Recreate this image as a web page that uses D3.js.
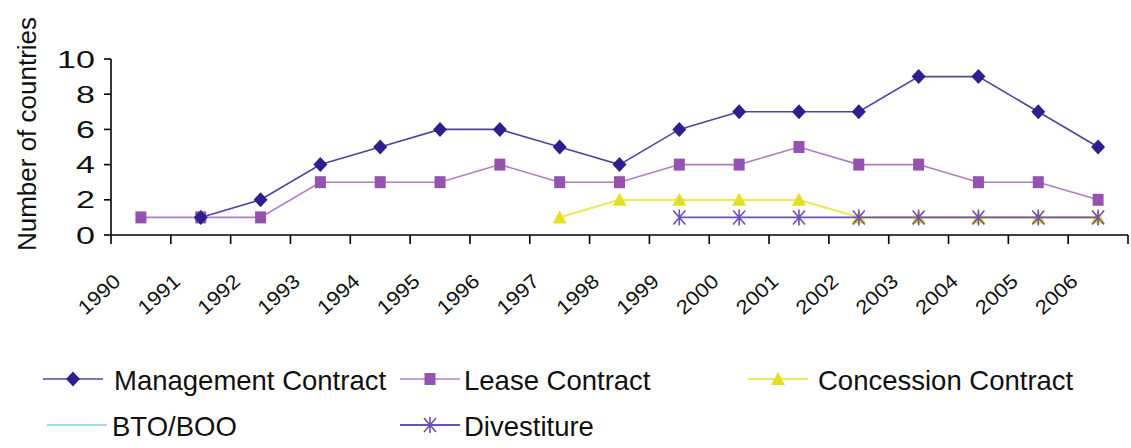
<!DOCTYPE html>
<html><head><meta charset="utf-8">
<script src="https://cdn.jsdelivr.net/npm/d3@7"></script>
<style>
html,body{margin:0;padding:0;background:#fff;}
svg{display:block;font-family:"Liberation Sans",Arial,sans-serif;}
</style></head>
<body>
<svg id="c" width="1131" height="448"></svg>
<script>
const years = ["1990","1991","1992","1993","1994","1995","1996","1997","1998","1999","2000","2001","2002","2003","2004","2005","2006"];
const yTicks = [0,2,4,6,8,10];
// null = no value
const management = [null,1,2,4,5,6,6,5,4,6,7,7,7,9,9,7,5];
const lease      = [1,1,1,3,3,3,4,3,3,4,4,5,4,4,3,3,2];
const concession = [null,null,null,null,null,null,null,1,2,2,2,2,1,1,1,1,1];
const btoBoo     = [null,null,null,null,null,null,null,null,null,null,null,null,null,null,null,null,null];
const divestiture= [null,null,null,null,null,null,null,null,null,1,1,1,1,1,1,1,1];
const seriesNames = ["Management Contract","Lease Contract","Concession Contract","BTO/BOO","Divestiture"];
const yTitle = "Number of countries";

const svg = d3.select("#c");
const x = d3.scaleBand().domain(years).range([111,1128]);
const y = d3.scaleLinear().domain([0,10]).range([235,59]);

const styles = {
  "Management Contract": {line:"#5a3f9f", lw:1.6, fill:"#2d1f8c", marker:"diamond"},
  "Lease Contract": {line:"#b07cc6", lw:1.6, fill:"#9553b0", marker:"square"},
  "Concession Contract": {line:"#ecea5c", lw:2.2, fill:"#e4df24", marker:"triangle"},
  "BTO/BOO": {line:"#7fd0dc", lw:1.6, fill:"#7fd0dc", marker:"none"},
  "Divestiture": {line:"#6d4fb6", lw:1.8, fill:"#6d4fb6", marker:"asterisk"}
};
const data = [management, lease, concession, btoBoo, divestiture];

function drawMarker(g, type, st){
  if(type==="diamond") g.append("path").attr("d","M0,-7.5L7,0L0,7.5L-7,0Z").attr("fill",st.fill);
  else if(type==="square") g.append("rect").attr("x",-5.5).attr("y",-6).attr("width",11).attr("height",12).attr("fill",st.fill);
  else if(type==="triangle") g.append("path").attr("d","M0,-7L7,6L-7,6Z").attr("fill",st.fill);
  else if(type==="asterisk") g.append("path").attr("d","M-6,-7L6,7M6,-7L-6,7M0,-8L0,8").attr("stroke",st.fill).attr("stroke-width",1.6).attr("fill","none");
}

// axes
const ax = svg.append("g").attr("stroke","#000").attr("stroke-width",1.6).attr("fill","none");
ax.append("line").attr("x1",x.range()[0]).attr("x2",x.range()[0]).attr("y1",y(10)).attr("y2",y(0));
ax.append("line").attr("x1",x.range()[0]).attr("x2",x.range()[1]).attr("y1",y(0)).attr("y2",y(0));
yTicks.forEach(t=>{
  ax.append("line").attr("x1",x.range()[0]-7).attr("x2",x.range()[0]).attr("y1",y(t)).attr("y2",y(t));
});
const bounds = years.map(d=>x(d)).concat([x.range()[1]]);
bounds.forEach(b=>{
  ax.append("line").attr("x1",b).attr("x2",b).attr("y1",y(0)).attr("y2",y(0)+9);
});

svg.append("g").selectAll("text").data(yTicks).join("text")
  .attr("transform",d=>`translate(95,${y(d)+8.5}) scale(1.45,1)`).attr("text-anchor","end")
  .attr("font-size",23.5).attr("fill","#111").text(d=>d);

svg.append("g").selectAll("text").data(years).join("text")
  .attr("transform",d=>`translate(${x(d)+x.bandwidth()/2-19},283) rotate(-42) scale(1.05,0.95)`)
  .attr("text-anchor","end").attr("font-size",21).attr("fill","#111").text(d=>d);

svg.append("text").attr("transform","translate(36,134) rotate(-90)")
  .attr("text-anchor","middle").attr("font-size",26).attr("fill","#111").text(yTitle);

// series
const cx = d=>x(d)+x.bandwidth()/2;
const order = [2,1,0,4,3];
order.forEach(i=>{
  const name = seriesNames[i], st = styles[name];
  const pts = years.map((yr,j)=>({yr, v:data[i][j]}));
  const line = d3.line().defined(p=>p.v!==null).x(p=>cx(p.yr)).y(p=>y(p.v));
  svg.append("path").attr("d",line(pts)).attr("fill","none").attr("stroke",st.line).attr("stroke-width",st.lw);
  pts.filter(p=>p.v!==null).forEach(p=>{
    const g = svg.append("g").attr("transform",`translate(${cx(p.yr)},${y(p.v)})`);
    drawMarker(g, st.marker, st);
  });
});

// legend
const legend = [
  {name:"Management Contract", lx:43, tx:114, ly:379},
  {name:"Lease Contract", lx:400, tx:464, ly:379},
  {name:"Concession Contract", lx:748, tx:818, ly:379},
  {name:"BTO/BOO", lx:47, tx:112, ly:425},
  {name:"Divestiture", lx:400, tx:464, ly:425}
];
legend.forEach(l=>{
  const st = styles[l.name];
  const w = 60;
  svg.append("line").attr("x1",l.lx).attr("x2",l.lx+w).attr("y1",l.ly).attr("y2",l.ly)
    .attr("stroke",st.line).attr("stroke-width",st.lw);
  const g = svg.append("g").attr("transform",`translate(${l.lx+w/2},${l.ly})`);
  drawMarker(g, st.marker, st);
  svg.append("text").attr("x",l.tx).attr("y",l.ly+11).attr("font-size",27.5).attr("fill","#111").text(l.name);
});
</script>
</body></html>
